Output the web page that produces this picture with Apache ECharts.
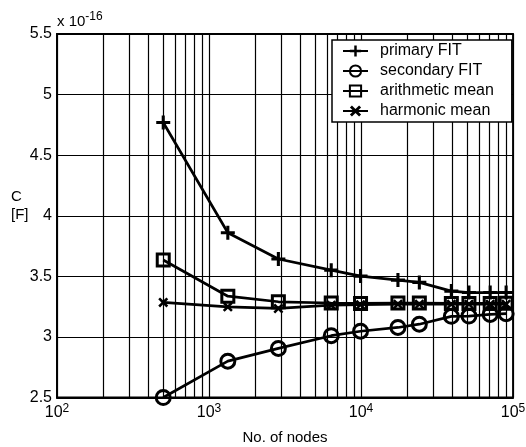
<!DOCTYPE html>
<html>
<head>
<meta charset="utf-8">
<script src="https://cdn.jsdelivr.net/npm/echarts@6/dist/echarts.min.js"></script>
<style>html,body{margin:0;padding:0;background:#fff}#c{width:526px;height:447px}</style>
</head>
<body>
<div id="c"></div>
<script>
const nodes = [500, 1330, 2860, 6370, 9930, 17500, 24200, 39300, 51300, 70800, 90100];
const primaryFIT = [4.77, 3.86, 3.643, 3.551, 3.502, 3.469, 3.45, 3.378, 3.366, 3.366, 3.366];
const secondaryFIT = [2.50, 2.80, 2.905, 3.01, 3.047, 3.078, 3.105, 3.17, 3.172, 3.186, 3.192];
const arithmeticMean = [3.635, 3.336, 3.29, 3.28, 3.276, 3.28, 3.28, 3.276, 3.276, 3.276, 3.278];
const harmonicMean = [3.285, 3.248, 3.235, 3.262, 3.266, 3.27, 3.27, 3.27, 3.27, 3.27, 3.27];
const seriesNames = ['primary FIT', 'secondary FIT', 'arithmetic mean', 'harmonic mean'];
const minorGrid = [200,300,400,500,600,700,800,900,2000,3000,4000,5000,6000,7000,8000,9000,20000,30000,40000,50000,60000,70000,80000,90000];
const yTicks = [2.5, 3, 3.5, 4, 4.5, 5, 5.5];

const FONT = 'Liberation Sans, Arial, sans-serif';
const plusPath = 'path://M3.9,0H6.1V3.9H10V6.1H6.1V10H3.9V6.1H0V3.9H3.9Z';
const xPath = 'path://M0,1.8L1.8,0L5,3.2L8.2,0L10,1.8L6.8,5L10,8.2L8.2,10L5,6.8L1.8,10L0,8.2L3.2,5Z';

function pairs(ys){ return nodes.map((x,i)=>[x, ys[i]]); }
function mk(name, ys, symbol, size, filled){
  return {
    name, type:'line', data: pairs(ys), symbol, symbolSize: size, z: 5,
    lineStyle:{color:'#000', width:2.7},
    itemStyle: filled ? {color:'#000', borderWidth:0} : {color:'rgba(0,0,0,0)', borderColor:'#000', borderWidth:3},
    emphasis:{disabled:true}, animation:false
  };
}

const chart = echarts.init(document.getElementById('c'));
chart.setOption({
  animation:false,
  backgroundColor:'#fff',
  textStyle:{fontFamily:FONT},
  grid:{left:57, top:34, right:13, bottom:49.5, show:true, borderColor:'#000', borderWidth:1.8,
        containLabel:false, outerBoundsMode:'none'},
  xAxis:{
    type:'log', logBase:10, min:100, max:100000,
    axisLine:{show:true, lineStyle:{color:'#000', width:1.8}},
    axisTick:{show:false},
    splitLine:{show:true, lineStyle:{color:'#000', width:1.2}},
    axisLabel:{
      margin:5, color:'#000', fontSize:16, fontFamily:FONT,
      formatter: v => '10{s|' + Math.round(Math.log10(v)) + '}',
      rich:{s:{fontSize:12, fontFamily:FONT, color:'#000', padding:[0,0,9,0]}}
    },
    name:'No. of nodes', nameLocation:'middle', nameGap:33,
    nameTextStyle:{color:'#000', fontSize:15, fontFamily:FONT}
  },
  yAxis:{
    type:'value', min:2.5, max:5.5, interval:0.5,
    axisLine:{show:true, lineStyle:{color:'#000', width:1.8}},
    axisTick:{show:false},
    splitLine:{show:true, lineStyle:{color:'#000', width:1.2}},
    axisLabel:{margin:5, color:'#000', fontSize:16, fontFamily:FONT,
      formatter: v => yTicks.indexOf(v) >= 0 ? String(v) : ''}
  },
  legend:{
    orient:'vertical', left:332, top:40,
    data: seriesNames,
    itemWidth:25, itemHeight:14, itemGap:4,
    padding:[3,18,3,10],
    backgroundColor:'#fff', borderColor:'#000', borderWidth:1.5,
    textStyle:{color:'#000', fontSize:16, fontFamily:FONT, padding:[0,0,0,7]},
    selectedMode:false, z:20
  },
  graphic:[
    {type:'text', left:57, top:11, z:30, style:{text:'x 10{s|-16}', fill:'#000', font:'15px '+FONT,
      rich:{s:{fontSize:12, fontFamily:FONT, fill:'#000', padding:[0,0,9,0]}}}},
    {type:'text', left:11, top:189, z:30, style:{text:'C', fill:'#000', font:'15px '+FONT}},
    {type:'text', left:11, top:207, z:30, style:{text:'[F]', fill:'#000', font:'15px '+FONT}}
  ],
  series:[
    {type:'line', name:'_grid', data:[], z:1, silent:true,
     markLine:{silent:true, symbol:['none','none'], animation:false,
       label:{show:false}, lineStyle:{color:'#000', width:1.2, type:'solid'},
       emphasis:{disabled:true},
       data: minorGrid.map(v => ({xAxis: v}))}},
    mk('primary FIT', primaryFIT, plusPath, 14, true),
    mk('secondary FIT', secondaryFIT, 'circle', 14, false),
    mk('arithmetic mean', arithmeticMean, 'rect', 12, false),
    mk('harmonic mean', harmonicMean, xPath, 10, true)
  ]
});
</script>
</body>
</html>
